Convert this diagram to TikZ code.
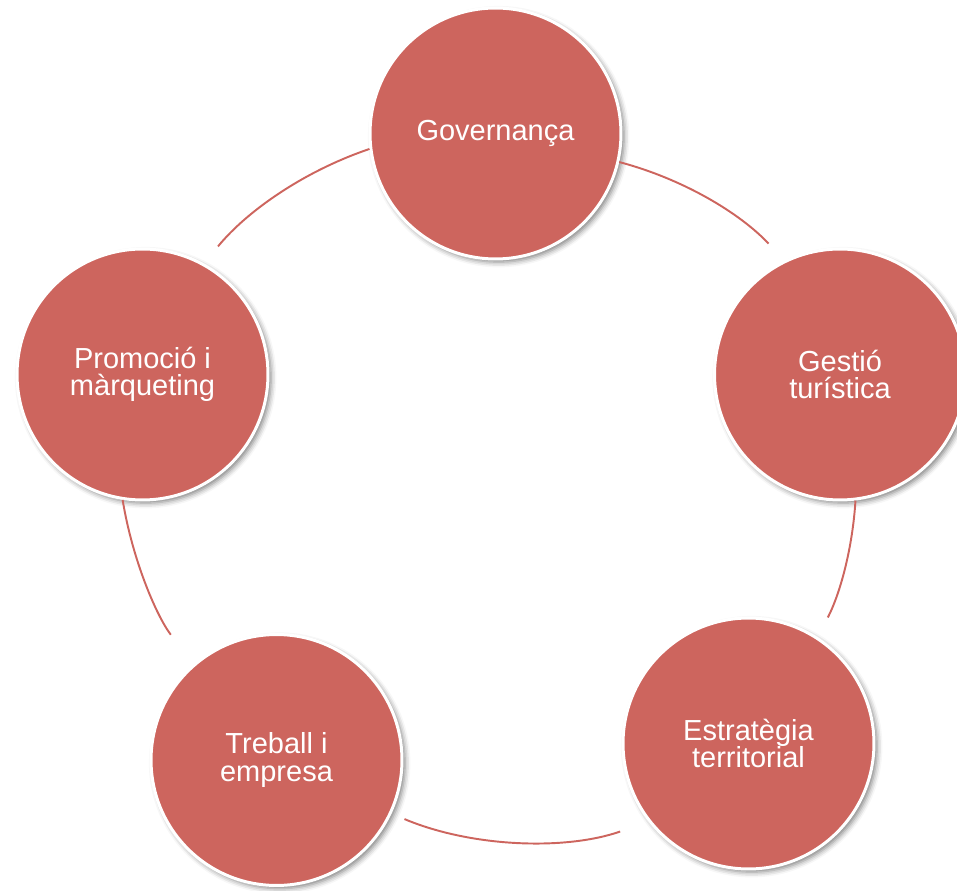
\documentclass[tikz,border=0pt]{standalone}
\usepackage{fontspec}
\setmainfont{Liberation Sans}
\usetikzlibrary{shadows.blur}
\definecolor{rosso}{RGB}{205,101,94}

\begin{document}
\begin{tikzpicture}[x=0.02cm, y=0.02cm,
        cerchio/.style={circle, fill=rosso, draw=white, line width=1.7pt,
            minimum size=5.02cm, inner sep=0pt, align=center, text=white,
            font=\fontsize{16.5}{15.5}\selectfont,
            blur shadow={shadow xshift=1.8pt, shadow yshift=-1.8pt,
                shadow blur radius=3pt, shadow opacity=50}},
        arco/.style={rosso, line width=1.1pt, looseness=0.87}]
        % Area del disegno
        \clip (0,0) rectangle (957,890);

        % Cerchi
        \node[cerchio] (gov) at (495.5,756.5) {Governança};
        \node[cerchio] (gest) at (840,515.5) {Gestió\\turística};
        \node[cerchio] (estr) at (748.5,146.5) {Estratègia\\territorial};
        \node[cerchio] (treb) at (276.5,130) {Treball i\\empresa};
        \node[cerchio] (prom) at (142.5,515.5) {Promoció i\\màrqueting};

        % Archi di collegamento
        \draw[arco, shorten >=0.46cm] (gov.347) to[bend left=16] (gest.116.5);
        \draw[arco, shorten >=0.44cm] (gest.277) to[bend left=12] (estr.57.5);
        \draw[arco, shorten <=0.6cm, shorten >=0.28cm] (estr.218) to[bend left=21] (treb.335);
        \draw[arco, shorten <=0.74cm] (treb.131.6) to[bend left=14] (prom.261.4);
        \draw[arco, shorten <=0.44cm] (prom.61.7) to[bend left=16] (gov.187.8);

    \end{tikzpicture}
\end{document}
